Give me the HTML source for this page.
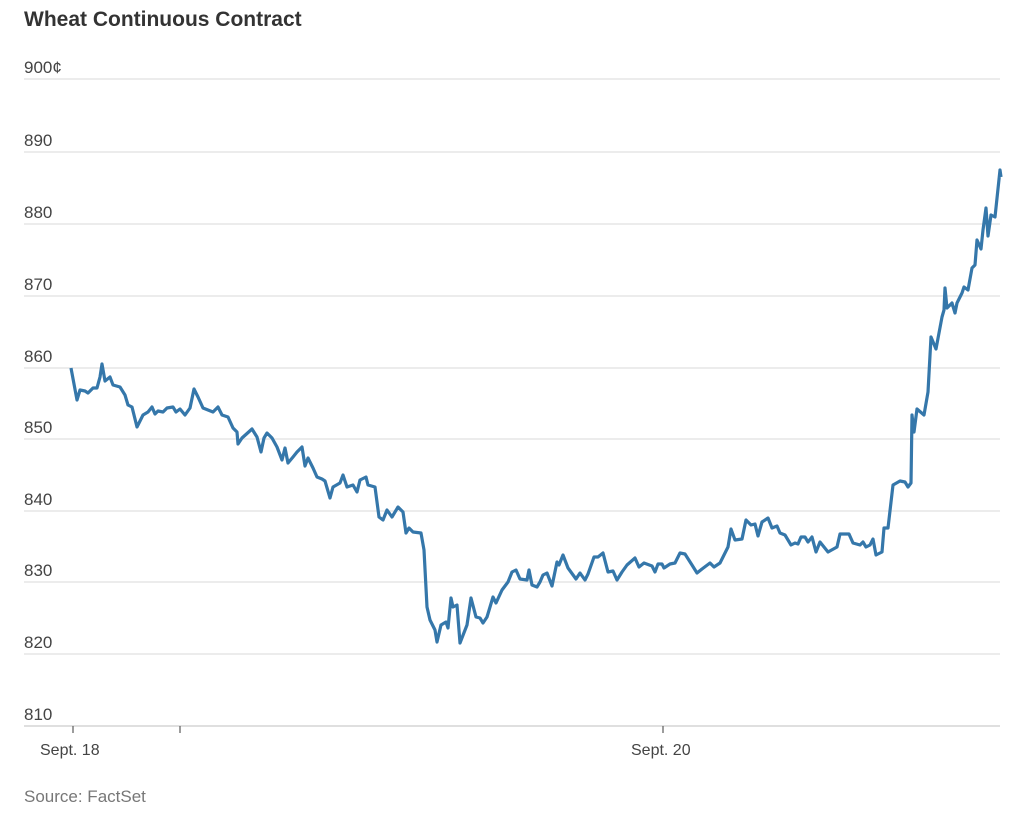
<!DOCTYPE html>
<html><head><meta charset="utf-8"><style>
html,body{margin:0;padding:0;background:#fff;width:1024px;height:828px;overflow:hidden}
svg text{font-family:"Liberation Sans",sans-serif}
</style></head><body>
<svg width="1024" height="828" viewBox="0 0 1024 828" xmlns="http://www.w3.org/2000/svg">
<text x="24" y="26" font-size="21" font-weight="bold" fill="#333">Wheat Continuous Contract</text>
<g stroke="#e0e0e0" stroke-width="1.3">
<line x1="24" y1="79" x2="1000" y2="79"/>
<line x1="24" y1="152" x2="1000" y2="152"/>
<line x1="24" y1="224" x2="1000" y2="224"/>
<line x1="24" y1="296" x2="1000" y2="296"/>
<line x1="24" y1="368" x2="1000" y2="368"/>
<line x1="24" y1="439" x2="1000" y2="439"/>
<line x1="24" y1="511" x2="1000" y2="511"/>
<line x1="24" y1="582" x2="1000" y2="582"/>
<line x1="24" y1="654" x2="1000" y2="654"/>
<line x1="24" y1="726" x2="1000" y2="726" stroke="#ccc"/>
</g>
<g stroke="#666" stroke-width="1.3">
<line x1="73" y1="726" x2="73" y2="733"/>
<line x1="180" y1="726" x2="180" y2="733"/>
<line x1="663" y1="726" x2="663" y2="733"/>
</g>
<g font-size="17" fill="#444">
<text x="24" y="73">900¢</text>
<text x="24" y="146">890</text>
<text x="24" y="218">880</text>
<text x="24" y="290">870</text>
<text x="24" y="362">860</text>
<text x="24" y="433">850</text>
<text x="24" y="505">840</text>
<text x="24" y="576">830</text>
<text x="24" y="648">820</text>
<text x="24" y="720">810</text>
<text x="40" y="755" font-size="16">Sept. 18</text>
<text x="631" y="755" font-size="16">Sept. 20</text>
</g>
<text x="24" y="802" font-size="17" fill="#777">Source: FactSet</text>
<polyline fill="none" stroke="#3577aa" stroke-width="3.2" stroke-linejoin="round" points="71,368 77,400 80,390 85,391 88,393 93,388 97,388 100,377 102,364 105,381 110,377 113,385 120,387 125,395 128,405 132,407 137,427 143,415 148,412 152,407 155,414 158,411 163,412 167,408 173,407 176,412 180,409 185,415 190,408 194,389 198,397 203,408 213,412 218,407 222,415 228,417 233,428 237,432 238,444 242,438 252,429 257,437 261,452 264,438 267,433 272,438 277,447 282,460 285,448 288,463 293,457 297,452 302,447 305,466 308,458 313,468 317,477 322,479 325,481 330,498 333,487 340,483 343,475 347,487 353,485 357,492 360,480 366,477 368,485 375,487 379,517 383,520 387,510 392,517 398,507 403,512 406,533 409,528 413,532 421,533 424,550 427,607 430,620 435,630 437,642 441,625 446,622 448,628 451,598 453,607 457,605 460,643 467,625 471,598 476,617 480,618 483,623 487,617 493,597 496,603 502,590 508,582 512,572 516,570 520,579 527,580 529,570 532,585 537,587 540,582 543,575 547,573 552,586 557,562 559,565 563,555 568,568 576,579 580,573 585,580 588,574 594,557 598,557 603,553 608,572 613,571 617,580 622,572 627,565 635,558 639,567 644,563 652,566 655,572 658,564 662,564 664,568 670,564 675,563 680,553 685,554 692,565 697,573 702,569 710,563 714,567 720,563 728,547 731,529 735,540 742,539 746,520 751,525 755,524 758,536 762,522 768,518 772,528 777,526 780,533 785,535 791,545 795,543 798,544 801,537 805,537 808,542 812,537 816,552 820,542 828,552 837,547 840,534 849,534 853,543 860,545 863,542 866,547 870,545 873,539 876,555 882,552 884,528 888,528 893,485 900,481 905,482 908,487 911,483 912,415 914,432 917,409 924,415 928,392 931,337 936,349 942,317 944,310 945,288 947,308 952,303 955,313 957,303 962,293 964,287 968,290 972,268 975,265 977,240 981,249 983,230 986,208 988,236 991,215 995,217 1000,170 1001,177"/>
</svg>
</body></html>
